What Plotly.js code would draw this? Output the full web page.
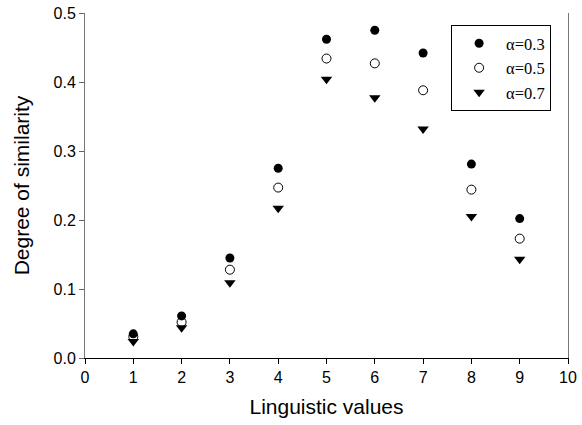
<!DOCTYPE html>
<html>
<head>
<meta charset="utf-8">
<script src="https://cdn.plot.ly/plotly-3.0.1.min.js"></script>
<style>html,body{margin:0;padding:0;background:#fff;}#chart{width:582px;height:425px;}</style>
</head>
<body>
<div id="chart"></div>
<script>
const linguisticValues = [1, 2, 3, 4, 5, 6, 7, 8, 9];
const alpha03 = [0.035, 0.061, 0.145, 0.275, 0.462, 0.475, 0.442, 0.281, 0.202];
const alpha05 = [0.031, 0.052, 0.128, 0.247, 0.434, 0.427, 0.388, 0.244, 0.173];
const alpha07 = [0.024, 0.044, 0.109, 0.217, 0.404, 0.377, 0.332, 0.205, 0.143];
const seriesNames = ['α=0.3', 'α=0.5', 'α=0.7'];
const xTicks = [0, 1, 2, 3, 4, 5, 6, 7, 8, 9, 10];
const yTicks = [0.0, 0.1, 0.2, 0.3, 0.4, 0.5];

const traces = [
  {x: linguisticValues, y: alpha03, name: seriesNames[0], type: 'scatter', mode: 'markers',
   marker: {symbol: 'circle', size: 9, color: '#000', line: {width: 0}}},
  {x: linguisticValues, y: alpha05, name: seriesNames[1], type: 'scatter', mode: 'markers',
   marker: {symbol: 'circle-open', size: 9, color: '#000', line: {width: 1, color: '#000'}}},
  {x: linguisticValues, y: alpha07, name: seriesNames[2], type: 'scatter', mode: 'markers',
   marker: {symbol: 'triangle-down', size: 10, color: '#000', line: {width: 0}}}
];

const layout = {
  width: 582, height: 425,
  margin: {l: 85, r: 14, t: 13, b: 66.5, pad: 0},
  paper_bgcolor: '#fff', plot_bgcolor: '#fff',
  font: {family: 'Liberation Sans, Arial, sans-serif', color: '#000', size: 16},
  showlegend: true,
  legend: {
    x: 0.758, y: 0.965, xanchor: 'left', yanchor: 'top',
    bordercolor: '#000', borderwidth: 1, bgcolor: '#fff',
    font: {family: 'Liberation Serif, Times New Roman, serif', size: 16.5, color: '#000'},
    itemwidth: 44, entrywidth: 52, entrywidthmode: 'pixels'
  },
  xaxis: {
    range: [0, 10], tickvals: xTicks, ticktext: xTicks.map(String),
    ticks: 'outside', ticklen: 5, tickcolor: '#000', tickwidth: 1,
    showline: true, linecolor: '#000', linewidth: 1, mirror: false,
    showgrid: false, zeroline: false,
    tickfont: {size: 16},
    title: {text: 'Linguistic values', font: {size: 21}, standoff: 14}
  },
  yaxis: {
    range: [0, 0.5], tickvals: yTicks, ticktext: yTicks.map(v => v.toFixed(1)),
    ticks: 'outside', ticklen: 5, tickcolor: '#666', tickwidth: 1,
    showline: true, linecolor: '#777', linewidth: 1, mirror: true,
    showgrid: false, zeroline: false,
    tickfont: {size: 16},
    title: {text: 'Degree of similarity', font: {size: 21}, standoff: 18}
  }
};

Plotly.newPlot('chart', traces, layout, {displayModeBar: false, staticPlot: true});
</script>
</body>
</html>
